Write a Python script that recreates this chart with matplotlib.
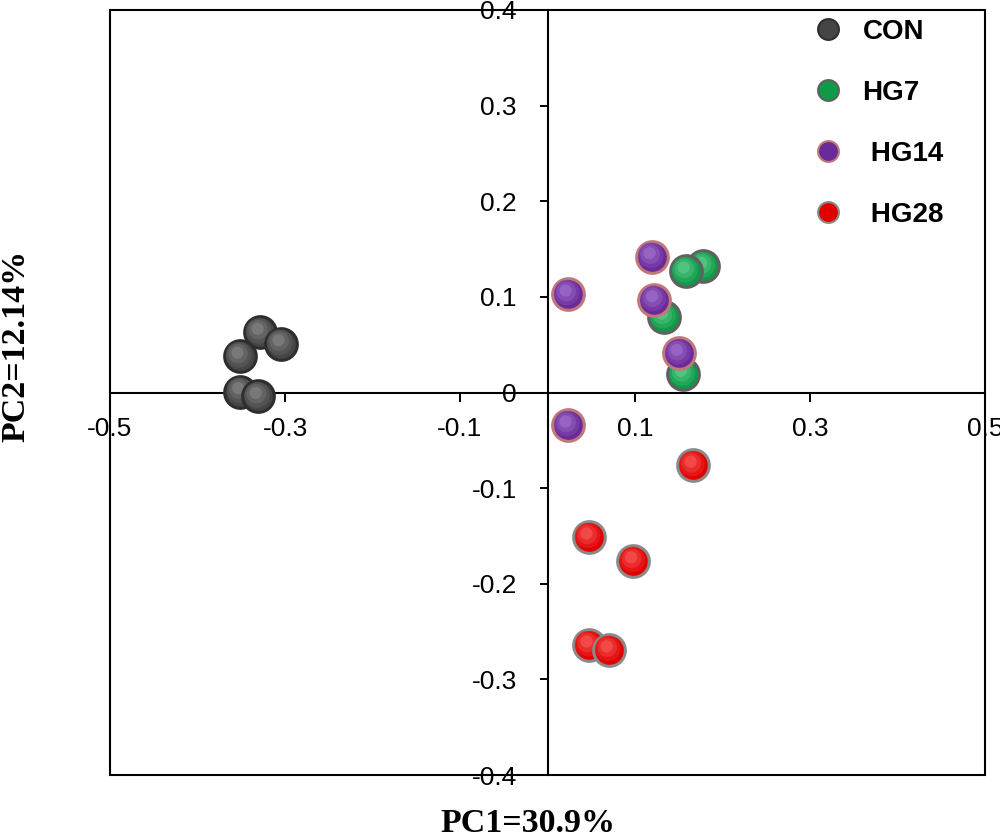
import matplotlib
matplotlib.use("Agg")
import matplotlib.pyplot as plt
import matplotlib.transforms as mtransforms
from matplotlib.lines import Line2D
from matplotlib.patches import Rectangle

# PCA scores
groups = ["CON", "HG7", "HG14", "HG28"]
con_x = [-0.329, -0.305, -0.352, -0.351, -0.331]
con_y = [0.063, 0.051, 0.038, 0.001, -0.004]
hg7_x = [0.178, 0.158, 0.133, 0.155]
hg7_y = [0.132, 0.127, 0.079, 0.019]
hg14_x = [0.119, 0.023, 0.122, 0.150, 0.023]
hg14_y = [0.142, 0.103, 0.097, 0.041, -0.034]
hg28_x = [0.166, 0.047, 0.098, 0.047, 0.070]
hg28_y = [-0.076, -0.151, -0.176, -0.264, -0.269]

xticks = [-0.5, -0.3, -0.1, 0.1, 0.3, 0.5]
yticks = [-0.4, -0.3, -0.2, -0.1, 0, 0.1, 0.2, 0.3, 0.4]

# base colour, highlight colour, rim colour
colours = {
    "CON": ("#454545", "#9a9a9a", "#2e2e2e"),
    "HG7": ("#0f9a48", "#7ee0a8", "#606060"),
    "HG14": ("#6a2a9a", "#b68ae0", "#c07878"),
    "HG28": ("#e00000", "#ff7a7a", "#8a8a8a"),
}

tick_font = ["Liberation Sans", "DejaVu Sans"]

fig = plt.figure(figsize=(10, 8.33), dpi=100)
ax = fig.add_axes([0.11, 0.0696, 0.875, 0.9184])
ax.set_xlim(-0.5, 0.5)
ax.set_ylim(-0.4, 0.4)


def ball(x, y, name, size=520):
    base, light, rim = colours[name]
    ax.scatter(x, y, s=size, color=base, edgecolors=rim, linewidths=2.2, zorder=3)
    # fake sphere shading: smaller lighter discs shifted up-left
    steps = [(0.65, 0.25, 1.0), (0.38, 0.45, 1.8), (0.15, 0.7, 2.5)]
    for frac, mix, off in steps:
        tr = mtransforms.offset_copy(ax.transData, fig=fig, x=-off * 0.6, y=off, units="points")
        c = matplotlib.colors.to_rgb(base)
        l = matplotlib.colors.to_rgb(light)
        col = tuple(c[i] + (l[i] - c[i]) * mix for i in range(3))
        ax.scatter(x, y, s=size * frac, color=col, edgecolors="none", alpha=0.7,
                   transform=tr, zorder=3)


# draw each point separately so overlaps stack like the reference
for i in range(len(con_x)):
    ball([con_x[i]], [con_y[i]], "CON")
for i in range(len(hg7_x)):
    ball([hg7_x[i]], [hg7_y[i]], "HG7")
for i in range(len(hg14_x)):
    ball([hg14_x[i]], [hg14_y[i]], "HG14")
for i in range(len(hg28_x)):
    ball([hg28_x[i]], [hg28_y[i]], "HG28")

# axes through the origin plus an outer frame
for side in ["top", "right"]:
    ax.spines[side].set_visible(False)
ax.spines["left"].set_position(("data", 0))
ax.spines["bottom"].set_position(("data", 0))
for side in ["left", "bottom"]:
    ax.spines[side].set_linewidth(1.5)
ax.add_patch(Rectangle((0, 0), 1, 1, transform=ax.transAxes, fill=False,
                       linewidth=1.5, edgecolor="black", clip_on=False, zorder=4))

ax.set_xticks(xticks)
ax.set_xticklabels(["-0.5", "-0.3", "-0.1", "0.1", "0.3", "0.5"])
ax.set_yticks(yticks)
ax.set_yticklabels(["-0.4", "-0.3", "-0.2", "-0.1", "0", "0.1", "0.2", "0.3", "0.4"])
ax.tick_params(axis="x", direction="out", length=6.5, width=1.4, pad=11)
ax.tick_params(axis="y", direction="out", length=6, width=1.4, pad=16)
for lab in ax.get_xticklabels() + ax.get_yticklabels():
    lab.set_family(tick_font)
    lab.set_fontsize(19)
    lab.set_clip_on(False)

fig.text(0.528, 1 - 808 / 833, "PC1=30.9%", family="Liberation Serif",
         fontweight="bold", fontsize=24.5, ha="center", va="top")
fig.text(0.0, 1 - 346 / 833, "PC2=12.14%", family="Liberation Serif",
         fontweight="bold", fontsize=24.5, ha="left", va="center", rotation=90)

# legend
handles = []
for name in groups:
    base, light, rim = colours[name]
    handles.append(Line2D([], [], linestyle="none", marker="o", markersize=15,
                          markerfacecolor=base, markeredgecolor=rim, markeredgewidth=1.5))
labels = ["CON", "HG7", " HG14", " HG28"]
leg = fig.legend(handles, labels, loc="upper left", bbox_to_anchor=(0.814, 1 - 19 / 833),
                 frameon=False, borderpad=0, borderaxespad=0, handlelength=1.0,
                 handletextpad=0.75, labelspacing=1.26,
                 prop={"family": tick_font, "weight": "bold", "size": 20})

plt.savefig("out.png")
